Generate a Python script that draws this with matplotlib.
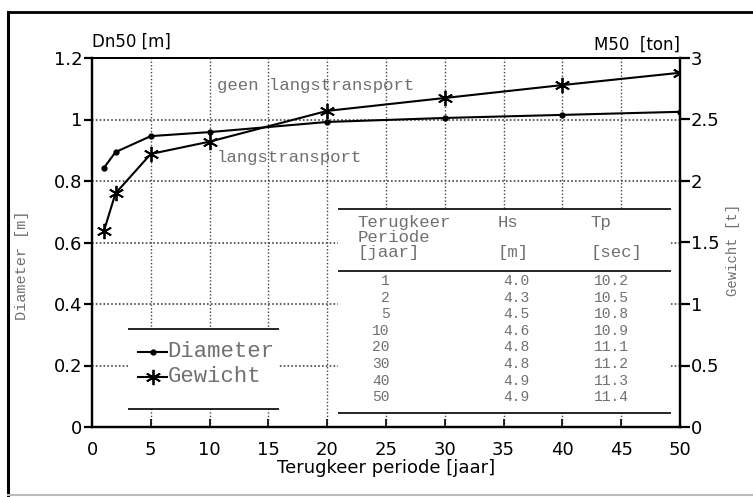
import matplotlib
matplotlib.use("Agg")
import matplotlib.pyplot as plt
from matplotlib.patches import Rectangle
from matplotlib.lines import Line2D

# ---- data ----
periods = [1, 2, 5, 10, 20, 30, 40, 50]
diameter = [0.842, 0.894, 0.946, 0.959, 0.992, 1.005, 1.015, 1.025]   # Dn50 [m]
gewicht = [1.59, 1.90, 2.22, 2.32, 2.57, 2.675, 2.78, 2.88]           # M50 [ton]

table_periods = ["1", "2", "5", "10", "20", "30", "40", "50"]
table_hs = ["4.0", "4.3", "4.5", "4.6", "4.8", "4.8", "4.9", "4.9"]
table_tp = ["10.2", "10.5", "10.8", "10.9", "11.1", "11.2", "11.3", "11.4"]

x_ticks = list(range(0, 51, 5))
left_ticks = [0, 0.2, 0.4, 0.6, 0.8, 1.0, 1.2]
left_labels = ["0", "0.2", "0.4", "0.6", "0.8", "1", "1.2"]
right_ticks = [0, 0.5, 1, 1.5, 2, 2.5, 3]
right_labels = ["0", "0.5", "1", "1.5", "2", "2.5", "3"]

W, H = 753, 497
fig = plt.figure(figsize=(W / 100, H / 100), dpi=100)
ax = fig.add_axes([92 / W, 1 - 427 / H, (680 - 92) / W, (427 - 58) / H])
ax2 = ax.twinx()

sans = "DejaVu Sans"
mono = "Liberation Mono"
faint = "#707070"

# figure border
fig.add_artist(Line2D([8 / W, 8 / W], [1 - 12 / H, 1 - 495 / H], transform=fig.transFigure, color="black", lw=2.2))
fig.add_artist(Line2D([8 / W, 1.0], [1 - 12 / H, 1 - 12 / H], transform=fig.transFigure, color="black", lw=2.0))
fig.add_artist(Line2D([8 / W, 1.0], [1 - 495 / H, 1 - 495 / H], transform=fig.transFigure, color="#bbbbbb", lw=1.5))

ax.set_xlim(0, 50)
ax.set_ylim(0, 1.2)
ax2.set_ylim(0, 3)

# grid
for xv in x_ticks[1:-1]:
    ax.axvline(xv, color="#444444", lw=1.0, ls=(0, (1, 1.5)), zorder=1)
for yv in left_ticks[1:-1]:
    ax.axhline(yv, color="#444444", lw=1.2, ls=(0, (1, 1.3)), zorder=1)

# white boxes (legend & table) covering the grid
ax.add_patch(Rectangle((3.07, 0.059), 15.9 - 3.07, 0.319 - 0.059, facecolor="white", edgecolor="none", zorder=2))
ax.hlines([0.319, 0.059], 3.07, 15.9, color="black", lw=1.2, zorder=3)
ax.add_patch(Rectangle((20.9, 0.045), 49.2 - 20.9, 0.709 - 0.045, facecolor="white", edgecolor="none", zorder=2))
ax.hlines([0.709, 0.507, 0.045], 20.9, 49.2, color="black", lw=1.2, zorder=3)

# series
ax.plot(periods, diameter, color="black", lw=1.5, marker="o", ms=3.5, zorder=5, label="Diameter")
ax2.plot(periods, gewicht, color="black", lw=1.5, marker=(6, 2, 0), ms=11, mew=1.3, zorder=5, label="Gewicht")
ax2.set_zorder(ax.get_zorder() + 1)
ax2.patch.set_visible(False)

# legend (custom)
lx0, lx1 = 3.9, 6.4
ax.plot([lx0, lx1], [0.244, 0.244], color="black", lw=1.5, zorder=4)
ax.plot([(lx0 + lx1) / 2], [0.244], color="black", marker="o", ms=3.5, zorder=4)
ax.plot([lx0, lx1], [0.163, 0.163], color="black", lw=1.5, zorder=4)
ax.plot([(lx0 + lx1) / 2], [0.163], color="black", marker=(6, 2, 0), ms=11, mew=1.3, zorder=4)
ax.text(6.4, 0.244, "Diameter", family=mono, fontsize=16, color=faint, va="center", ha="left", zorder=4)
ax.text(6.4, 0.163, "Gewicht", family=mono, fontsize=16, color=faint, va="center", ha="left", zorder=4)

# annotations
ax.text(10.6, 1.11, "geen langstransport", family=mono, fontsize=12.5, color=faint, va="center", ha="left", zorder=4)
ax.text(10.6, 0.878, "langstransport", family=mono, fontsize=12.5, color=faint, va="center", ha="left", zorder=4)

# table
ax.text(22.6, 0.69, "Terugkeer\nPeriode\n[jaar]", family=mono, fontsize=12.5, color=faint, va="top", ha="left",
        linespacing=1.0, zorder=4)
ax.text(34.5, 0.69, "Hs\n\n[m]", family=mono, fontsize=12.5, color=faint, va="top", ha="left", linespacing=1.0, zorder=4)
ax.text(42.4, 0.69, "Tp\n\n[sec]", family=mono, fontsize=12.5, color=faint, va="top", ha="left", linespacing=1.0, zorder=4)
row_top, row_step = 0.475, 0.054
for i, (tp_, hs_, t_) in enumerate(zip(table_periods, table_hs, table_tp)):
    yy = row_top - i * row_step
    ax.text(25.3, yy, tp_, family=mono, fontsize=10.5, color=faint, va="center", ha="right", zorder=4)
    ax.text(35.0, yy, hs_, family=mono, fontsize=10.5, color=faint, va="center", ha="left", zorder=4)
    ax.text(42.7, yy, t_, family=mono, fontsize=10.5, color=faint, va="center", ha="left", zorder=4)

# axes styling
for a in (ax, ax2):
    for s in a.spines.values():
        s.set_linewidth(1.6)
    a.spines["top"].set_linewidth(1.3)

ax.set_xticks(x_ticks)
ax.set_xticklabels([str(v) for v in x_ticks], family=sans, fontsize=13)
ax.set_yticks(left_ticks)
ax.set_yticklabels(left_labels, family=sans, fontsize=13)
ax.tick_params(axis="x", direction="in", length=6, width=1.2, pad=10)
ax.tick_params(axis="y", direction="out", length=6, width=1.6, pad=1)
ax2.set_yticks(right_ticks)
ax2.set_yticklabels(right_labels, family=sans, fontsize=13)
ax2.tick_params(axis="y", direction="out", length=7, width=1.6, pad=1)

ax.set_xlabel("Terugkeer periode [jaar]", family=sans, fontsize=13, labelpad=0)

fig.text(22 / W, 1 - 265 / H, "Diameter [m]", family=mono, fontsize=11, color=faint, rotation=90,
         va="center", ha="center")
fig.text(733 / W, 1 - 250 / H, "Gewicht [t]", family=mono, fontsize=10, color=faint, rotation=90,
         va="center", ha="center")

fig.text(92 / W, 1 - 42 / H, "Dn50 [m]", family=sans, fontsize=12, va="center", ha="left")
fig.text(680 / W, 1 - 45 / H, "M50  [ton]", family=sans, fontsize=12, va="center", ha="right")

fig.savefig("out.png", dpi=100)
